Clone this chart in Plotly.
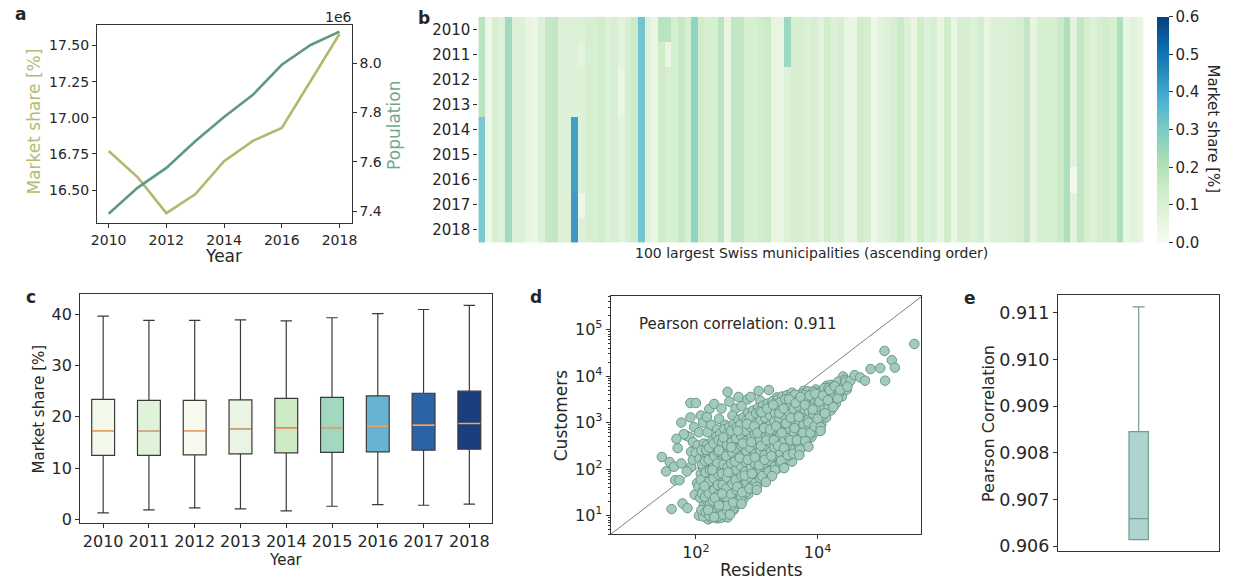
import plotly.graph_objects as go

W, H = 1233, 587
FONT = "DejaVu Sans"
INK = "#262626"

# ---------------- data ----------------
years = [2010, 2011, 2012, 2013, 2014, 2015, 2016, 2017, 2018]

# panel a
market_share_mean = [16.77, 16.59, 16.34, 16.47, 16.70, 16.84, 16.93, 17.26, 17.58]
population = [7.389e6, 7.494e6, 7.575e6, 7.683e6, 7.781e6, 7.871e6, 7.993e6, 8.073e6, 8.127e6]

# panel b : market share per municipality (100 largest, ascending), base value per column
municipality_rank = list(range(1, 101))
share_base = [
    0.20, 0.04, 0.12, 0.10, 0.25, 0.10, 0.10, 0.06, 0.04, 0.10,
    0.17, 0.18, 0.10, 0.10, 0.10, 0.10, 0.12, 0.12, 0.14, 0.10,
    0.12, 0.08, 0.12, 0.16, 0.33, 0.10, 0.05, 0.15, 0.12, 0.12,
    0.17, 0.12, 0.28, 0.15, 0.12, 0.12, 0.20, 0.06, 0.18, 0.18,
    0.12, 0.12, 0.14, 0.16, 0.06, 0.06, 0.10, 0.12, 0.12, 0.10,
    0.12, 0.08, 0.14, 0.10, 0.12, 0.06, 0.05, 0.14, 0.12, 0.04,
    0.08, 0.10, 0.12, 0.16, 0.10, 0.06, 0.15, 0.10, 0.12, 0.06,
    0.15, 0.05, 0.12, 0.12, 0.10, 0.13, 0.06, 0.10, 0.10, 0.10,
    0.11, 0.13, 0.18, 0.06, 0.12, 0.12, 0.12, 0.16, 0.22, 0.08,
    0.18, 0.12, 0.10, 0.13, 0.14, 0.12, 0.22, 0.05, 0.08, 0.06,
]
# (year, column index, value) where a cell differs from its column's base value
share_changes = [
    (2014, 0, 0.32), (2015, 0, 0.32), (2016, 0, 0.32), (2017, 0, 0.32), (2018, 0, 0.32),
    (2014, 14, 0.43), (2015, 14, 0.43), (2016, 14, 0.43), (2017, 14, 0.44), (2018, 14, 0.44),
    (2017, 15, 0.04), (2011, 15, 0.07),
    (2012, 21, 0.05), (2013, 21, 0.05),
    (2010, 27, 0.20), (2010, 28, 0.20), (2011, 28, 0.05),
    (2010, 46, 0.26), (2011, 46, 0.26),
    (2016, 89, 0.02),
]
share_ticks = [0.0, 0.1, 0.2, 0.3, 0.4, 0.5, 0.6]

# panel c : box statistics per year
box_low = [1.3, 1.9, 2.3, 2.1, 1.7, 2.6, 2.9, 2.8, 3.0]
box_q1 = [12.5, 12.5, 12.6, 12.8, 13.0, 13.1, 13.2, 13.5, 13.7]
box_median = [17.3, 17.2, 17.3, 17.6, 17.8, 17.9, 18.1, 18.4, 18.7]
box_q3 = [23.4, 23.2, 23.2, 23.3, 23.6, 23.8, 24.1, 24.6, 25.0]
box_high = [39.6, 38.8, 38.8, 38.9, 38.7, 39.3, 40.1, 40.9, 41.7]
box_colors = ["#f2f9ea", "#e0f2d9", "#f6fbee", "#e9f5e2", "#cdeac5",
              "#a2d7c0", "#67b4d2", "#2a63a6", "#1b3f7e"]

# panel d : (log10 residents, log10 customers) per municipality
resident_customer_log10 = [
    # above the diagonal (small municipalities)
    (1.44, 2.26), (1.51, 1.95), (1.57, 2.15), (1.60, 1.14), (1.64, 2.05), (1.66, 1.76),
    (1.73, 1.76), (1.76, 2.12), (1.78, 1.26), (1.86, 1.16), (1.84, 2.72), (1.89, 2.69),
    (1.92, 2.37), (1.92, 2.05), (1.91, 3.42), (2.00, 3.42), (1.76, 3.00), (1.91, 3.11),
    (1.95, 2.58), (1.97, 2.90), (2.05, 2.79), (2.03, 2.51), (2.08, 3.15), (2.22, 3.29),
    (2.30, 3.40), (2.52, 3.66), (2.38, 3.08), (2.19, 2.79), (1.80, 2.75), (1.95, 2.20),
    (1.85, 1.95), (2.00, 2.35), (2.12, 3.00), (2.25, 2.95), (2.18, 3.12), (2.42, 3.30),
    (2.55, 3.45), (2.65, 3.30), (2.70, 3.55), (2.75, 3.35), (2.85, 3.50), (2.60, 3.15),
    (2.48, 2.95), (2.35, 2.85), (1.70, 2.45), (1.68, 2.65), (2.02, 1.70), (1.98, 1.45),
    (3.03, 3.68), (3.06, 3.47), (3.33, 3.54), (3.44, 3.54), (3.58, 3.51), (3.77, 3.68),
    (3.93, 3.61), (4.12, 3.75), (3.20, 3.70), (2.90, 3.55),
    # lower outliers
    (2.62, 1.12), (2.90, 1.58), (2.35, 0.94), (2.45, 0.97), (2.20, 0.92), (2.52, 0.96),
    # main body
    (2.05, 1.00), (2.07, 1.38), (2.04, 1.62), (2.08, 1.90), (2.06, 2.22),
    (2.12, 0.98), (2.13, 1.22), (2.11, 1.52), (2.14, 1.76), (2.12, 2.02), (2.15, 2.30), (2.13, 2.55),
    (2.19, 1.05), (2.18, 1.32), (2.20, 1.57), (2.17, 1.82), (2.21, 2.06), (2.19, 2.27), (2.18, 2.52),
    (2.25, 0.95), (2.26, 1.16), (2.24, 1.42), (2.27, 1.63), (2.25, 1.87), (2.26, 2.11), (2.24, 2.36), (2.27, 2.61),
    (2.32, 1.02), (2.33, 1.26), (2.31, 1.50), (2.34, 1.73), (2.32, 1.96), (2.33, 2.21), (2.31, 2.46), (2.34, 2.70),
    (2.40, 0.95), (2.41, 1.12), (2.39, 1.36), (2.42, 1.58), (2.40, 1.81), (2.41, 2.02), (2.39, 2.26), (2.42, 2.51), (2.40, 2.76),
    (2.47, 1.05), (2.48, 1.26), (2.46, 1.46), (2.49, 1.69), (2.47, 1.91), (2.48, 2.13), (2.46, 2.36), (2.49, 2.61), (2.47, 2.86),
    (2.55, 1.12), (2.56, 1.31), (2.54, 1.56), (2.57, 1.76), (2.55, 2.01), (2.56, 2.21), (2.54, 2.43), (2.57, 2.66), (2.55, 2.91),
    (2.62, 1.16), (2.63, 1.41), (2.61, 1.63), (2.64, 1.86), (2.62, 2.06), (2.63, 2.29), (2.61, 2.51), (2.64, 2.73), (2.62, 2.96),
    (2.70, 1.26), (2.71, 1.49), (2.69, 1.71), (2.72, 1.93), (2.70, 2.13), (2.71, 2.36), (2.69, 2.59), (2.72, 2.81), (2.70, 3.06),
    (2.78, 1.36), (2.79, 1.56), (2.77, 1.79), (2.80, 2.01), (2.78, 2.21), (2.79, 2.43), (2.77, 2.66), (2.80, 2.89), (2.78, 3.11),
    (2.86, 1.46), (2.87, 1.66), (2.85, 1.89), (2.88, 2.09), (2.86, 2.31), (2.87, 2.51), (2.85, 2.73), (2.88, 2.96), (2.86, 3.21),
    (2.94, 1.58), (2.95, 1.76), (2.93, 1.96), (2.96, 2.16), (2.94, 2.39), (2.95, 2.61), (2.93, 2.81), (2.96, 3.03), (2.94, 3.26),
    (3.02, 1.68), (3.03, 1.86), (3.01, 2.06), (3.04, 2.26), (3.02, 2.46), (3.03, 2.69), (3.01, 2.91), (3.04, 3.11), (3.02, 3.31),
    (3.10, 1.76), (3.11, 1.96), (3.09, 2.16), (3.12, 2.36), (3.10, 2.56), (3.11, 2.76), (3.09, 2.96), (3.12, 3.16), (3.10, 3.36),
    (3.18, 1.86), (3.19, 2.06), (3.17, 2.26), (3.20, 2.43), (3.18, 2.63), (3.19, 2.83), (3.17, 3.01), (3.20, 3.21), (3.18, 3.41),
    (3.26, 1.96), (3.27, 2.13), (3.25, 2.33), (3.28, 2.51), (3.26, 2.71), (3.27, 2.91), (3.25, 3.09), (3.28, 3.26), (3.26, 3.46),
    (3.34, 2.01), (3.35, 2.21), (3.33, 2.41), (3.36, 2.59), (3.34, 2.79), (3.35, 2.96), (3.33, 3.13), (3.36, 3.31), (3.34, 3.49),
    (3.42, 2.11), (3.43, 2.29), (3.41, 2.49), (3.44, 2.66), (3.42, 2.86), (3.43, 3.03), (3.41, 3.21), (3.44, 3.39), (3.42, 3.56),
    (3.50, 2.19), (3.51, 2.39), (3.49, 2.56), (3.52, 2.73), (3.50, 2.91), (3.51, 3.09), (3.49, 3.26), (3.52, 3.43), (3.50, 3.59),
    (3.58, 2.16), (3.59, 2.46), (3.57, 2.63), (3.60, 2.81), (3.58, 2.99), (3.59, 3.16), (3.57, 3.33), (3.60, 3.49), (3.58, 3.64),
    (3.66, 2.36), (3.67, 2.56), (3.65, 2.71), (3.68, 2.89), (3.66, 3.06), (3.67, 3.23), (3.65, 3.39), (3.68, 3.56),
    (3.74, 2.46), (3.75, 2.63), (3.73, 2.81), (3.76, 2.96), (3.74, 3.13), (3.75, 3.29), (3.73, 3.46), (3.76, 3.62),
    (3.82, 2.56), (3.83, 2.73), (3.81, 2.89), (3.84, 3.06), (3.82, 3.21), (3.83, 3.36), (3.81, 3.51), (3.84, 3.67),
    (3.90, 2.69), (3.91, 2.86), (3.89, 3.01), (3.92, 3.16), (3.90, 3.31), (3.91, 3.46), (3.89, 3.61),
    (3.98, 2.81), (3.99, 2.96), (3.97, 3.11), (4.00, 3.26), (3.98, 3.41), (3.99, 3.56), (3.97, 3.71),
    (4.06, 2.96), (4.07, 3.11), (4.05, 3.26), (4.08, 3.41), (4.06, 3.56), (4.07, 3.69),
    (4.14, 3.11), (4.15, 3.26), (4.13, 3.41), (4.16, 3.56), (4.14, 3.69), (4.15, 3.79),
    (4.22, 3.26), (4.23, 3.41), (4.21, 3.56), (4.24, 3.68), (4.22, 3.81),
    (4.30, 3.41), (4.31, 3.56), (4.29, 3.69), (4.32, 3.83),
    (4.40, 3.56), (4.41, 3.71), (4.39, 3.86), (4.42, 3.99),
    (4.48, 3.71), (4.49, 3.82),
    # main body, points lying between the ones above
    (2.09, 1.12), (2.10, 1.48), (2.08, 1.77), (2.10, 2.10), (2.09, 2.40),
    (2.16, 1.08), (2.15, 1.40), (2.17, 1.66), (2.16, 1.93), (2.15, 2.17), (2.17, 2.41),
    (2.22, 1.00), (2.23, 1.24), (2.21, 1.48), (2.22, 1.73), (2.23, 1.98), (2.21, 2.20), (2.22, 2.46),
    (2.29, 1.08), (2.28, 1.32), (2.30, 1.55), (2.29, 1.80), (2.28, 2.03), (2.30, 2.28), (2.29, 2.55),
    (2.36, 0.98), (2.37, 1.18), (2.35, 1.43), (2.36, 1.66), (2.37, 1.88), (2.35, 2.12), (2.36, 2.37), (2.37, 2.62),
    (2.44, 1.02), (2.43, 1.20), (2.45, 1.42), (2.44, 1.66), (2.43, 1.90), (2.45, 2.10), (2.44, 2.33), (2.43, 2.58),
    (2.51, 1.12), (2.52, 1.36), (2.50, 1.58), (2.51, 1.82), (2.52, 2.04), (2.50, 2.28), (2.51, 2.52), (2.52, 2.76),
    (2.59, 1.22), (2.58, 1.46), (2.60, 1.68), (2.59, 1.92), (2.58, 2.12), (2.60, 2.35), (2.59, 2.58), (2.58, 2.82),
    (2.66, 1.30), (2.67, 1.55), (2.65, 1.76), (2.66, 1.99), (2.67, 2.20), (2.65, 2.44), (2.66, 2.66), (2.67, 2.90),
    (2.74, 1.40), (2.73, 1.62), (2.75, 1.85), (2.74, 2.06), (2.73, 2.28), (2.75, 2.50), (2.74, 2.73), (2.73, 2.96),
    (2.82, 1.50), (2.83, 1.72), (2.81, 1.95), (2.82, 2.15), (2.83, 2.38), (2.81, 2.60), (2.82, 2.82), (2.83, 3.04),
    (2.90, 1.62), (2.89, 1.82), (2.91, 2.03), (2.90, 2.24), (2.89, 2.46), (2.91, 2.68), (2.90, 2.90), (2.89, 3.12),
    (2.98, 1.70), (2.99, 1.92), (2.97, 2.12), (2.98, 2.33), (2.99, 2.55), (2.97, 2.76), (2.98, 2.98), (2.99, 3.20),
    (3.06, 1.80), (3.05, 2.00), (3.07, 2.20), (3.06, 2.40), (3.05, 2.62), (3.07, 2.83), (3.06, 3.04), (3.05, 3.24),
    (3.14, 1.90), (3.15, 2.10), (3.13, 2.30), (3.14, 2.50), (3.15, 2.70), (3.13, 2.90), (3.14, 3.10), (3.15, 3.28),
    (3.22, 1.98), (3.21, 2.18), (3.23, 2.38), (3.22, 2.58), (3.21, 2.77), (3.23, 2.96), (3.22, 3.15), (3.21, 3.34),
    (3.30, 2.06), (3.31, 2.26), (3.29, 2.46), (3.30, 2.65), (3.31, 2.84), (3.29, 3.03), (3.30, 3.21), (3.31, 3.40),
    (3.38, 2.15), (3.39, 2.35), (3.37, 2.54), (3.38, 2.73), (3.39, 2.91), (3.37, 3.08), (3.38, 3.26), (3.39, 3.44),
    (3.46, 2.22), (3.47, 2.42), (3.45, 2.61), (3.46, 2.79), (3.47, 2.97), (3.45, 3.15), (3.46, 3.32), (3.47, 3.50),
    (3.54, 2.30), (3.55, 2.50), (3.53, 2.68), (3.54, 2.86), (3.55, 3.04), (3.53, 3.21), (3.54, 3.38), (3.55, 3.55),
    (3.62, 2.42), (3.63, 2.61), (3.61, 2.78), (3.62, 2.95), (3.63, 3.12), (3.61, 3.29), (3.62, 3.46), (3.63, 3.60),
    (3.70, 2.50), (3.71, 2.68), (3.69, 2.85), (3.70, 3.02), (3.71, 3.19), (3.69, 3.35), (3.70, 3.52),
    (3.78, 2.62), (3.79, 2.80), (3.77, 2.96), (3.78, 3.12), (3.79, 3.28), (3.77, 3.43), (3.78, 3.59),
    (3.86, 2.72), (3.87, 2.92), (3.85, 3.08), (3.86, 3.24), (3.87, 3.39), (3.85, 3.55),
    (3.94, 2.86), (3.95, 3.04), (3.93, 3.19), (3.94, 3.35), (3.95, 3.50), (3.93, 3.66),
    (4.02, 3.00), (4.03, 3.18), (4.01, 3.34), (4.02, 3.49), (4.03, 3.63),
    (4.10, 3.16), (4.11, 3.33), (4.09, 3.48), (4.10, 3.62), (4.11, 3.74),
    (4.18, 3.32), (4.19, 3.48), (4.17, 3.62), (4.18, 3.74),
    (4.26, 3.48), (4.27, 3.62), (4.25, 3.76),
    (4.35, 3.62), (4.36, 3.76), (4.34, 3.88),
    (4.44, 3.80), (4.45, 3.92),
    # main body, scattered points
    (2.14, 1.63), (2.27, 1.98), (2.31, 1.38), (2.38, 2.40), (2.43, 1.47), (2.45, 2.68),
    (2.50, 1.21), (2.53, 1.93), (2.58, 2.47), (2.61, 1.28), (2.64, 2.16), (2.68, 1.62),
    (2.69, 2.82), (2.72, 2.24), (2.76, 1.50), (2.77, 2.55), (2.80, 1.86), (2.84, 2.97),
    (2.85, 2.20), (2.88, 1.58), (2.91, 2.58), (2.92, 1.90), (2.96, 2.92), (2.97, 2.25),
    (3.00, 1.62), (3.01, 2.78), (3.04, 2.08), (3.07, 2.50), (3.08, 3.22), (3.09, 1.85),
    (3.12, 2.88), (3.13, 2.20), (3.16, 2.62), (3.17, 3.30), (3.20, 1.95), (3.22, 2.85),
    (3.24, 2.28), (3.27, 3.38), (3.28, 2.62), (3.30, 1.98), (3.32, 2.92), (3.35, 2.50),
    (3.37, 3.20), (3.40, 2.18), (3.41, 2.78), (3.44, 3.30), (3.45, 2.45), (3.48, 2.98),
    (3.51, 2.30), (3.53, 3.50), (3.55, 2.62), (3.56, 3.10), (3.60, 2.33), (3.62, 2.88),
    (3.64, 3.42), (3.66, 2.62), (3.69, 3.12), (3.71, 2.42), (3.72, 3.55), (3.76, 2.78),
    (3.79, 3.38), (3.80, 2.60), (3.85, 3.00), (3.87, 3.58), (3.88, 2.78), (3.92, 3.28),
    (3.95, 2.92), (3.96, 3.62), (4.00, 3.08), (4.03, 3.45), (4.05, 2.90), (4.09, 3.58),
    (4.12, 3.20), (4.17, 3.48), (4.20, 3.70), (4.26, 3.33), (4.28, 3.78), (4.33, 3.52),
    (4.37, 3.70), (4.46, 3.88), (3.00, 1.55), (3.25, 1.85), (3.45, 2.02), (3.70, 2.30),
    (3.85, 2.48), (4.05, 2.82), (2.75, 1.25), (3.15, 1.72), (2.20, 1.12), (2.30, 0.97),
    (2.38, 1.22), (2.56, 1.02),
    # largest municipalities
    (4.54, 3.90), (4.49, 3.77), (4.61, 4.02), (4.70, 3.97), (4.78, 3.90), (4.87, 4.15),
    (5.03, 4.17), (5.11, 3.90), (5.10, 4.54), (5.22, 4.34), (5.27, 4.18), (5.59, 4.69),
]
residents = [10 ** p[0] for p in resident_customer_log10]
customers = [10 ** p[1] for p in resident_customer_log10]
identity_line = [4.0, 5.0e5]
pearson_r = 0.911

# panel e : distribution of Pearson correlations
pc_q1 = 0.906136
pc_median = 0.906590
pc_q3 = 0.908452
pc_low = 0.906136
pc_high = 0.911127

# ---------------- helpers ----------------
def px_x(v):
    return v / W


def px_y(v):
    return 1 - v / H


def dom_x(a, b):
    return [px_x(a), px_x(b)]


def dom_y(top, bottom):
    return [px_y(bottom), px_y(top)]


def axis_style(size=15, **kw):
    d = dict(showline=True, linecolor="#333333", linewidth=1.2, mirror=True,
             ticks="outside", ticklen=4, tickcolor="#333333", tickwidth=1,
             showgrid=False, zeroline=False,
             tickfont=dict(family=FONT, size=size, color=INK))
    d.update(kw)
    return d


fig = go.Figure()

# ---------------- panel a ----------------
fig.add_trace(go.Scatter(x=years, y=market_share_mean, mode="lines",
                         line=dict(color="#b3b86a", width=2.6), xaxis="x", yaxis="y",
                         showlegend=False))
fig.add_trace(go.Scatter(x=years, y=population, mode="lines",
                         line=dict(color="#5f9985", width=2.6), xaxis="x", yaxis="y2",
                         showlegend=False))

# ---------------- panel b ----------------
year_index = {y: i for i, y in enumerate(years)}
z = [list(share_base) for _ in years]
for yr, col, val in share_changes:
    z[year_index[yr]][col] = val

fig.add_trace(go.Heatmap(
    x=municipality_rank, y=years, z=z, colorscale="GnBu", zmin=0, zmax=0.6,
    xaxis="x3", yaxis="y3", opacity=0.92,
    colorbar=dict(x=px_x(1162), xanchor="left", xpad=0, ypad=0,
                  y=px_y(131), yanchor="middle",
                  len=228 / H, lenmode="fraction", thickness=12, outlinewidth=0,
                  tickvals=share_ticks, tickformat=".1f", ticks="outside", ticklen=4,
                  tickcolor="#333333",
                  tickfont=dict(family=FONT, size=15, color=INK)),
))

# ---------------- panel c ----------------
for i, yr in enumerate(years):
    fig.add_trace(go.Box(
        x=[yr], q1=[box_q1[i]], median=[box_median[i]], q3=[box_q3[i]],
        lowerfence=[box_low[i]], upperfence=[box_high[i]],
        width=0.5, whiskerwidth=0.5, fillcolor=box_colors[i],
        line=dict(color="#3a3a3a", width=1.2), boxpoints=False,
        xaxis="x4", yaxis="y4", showlegend=False, hoverinfo="skip"))
    fig.add_trace(go.Scatter(
        x=[yr - 0.24, yr + 0.24], y=[box_median[i], box_median[i]], mode="lines",
        line=dict(color="#eda36b", width=1.6), xaxis="x4", yaxis="y4",
        showlegend=False, hoverinfo="skip"))

# ---------------- panel d ----------------
fig.add_trace(go.Scatter(x=identity_line, y=identity_line, mode="lines",
                         line=dict(color="#7f7f7f", width=1), xaxis="x5", yaxis="y5",
                         showlegend=False, hoverinfo="skip"))
fig.add_trace(go.Scatter(x=residents, y=customers, mode="markers",
                         marker=dict(size=9.5, color="#a2cbbd",
                                     line=dict(color="#6b9985", width=1)),
                         xaxis="x5", yaxis="y5", showlegend=False))

# ---------------- panel e ----------------
fig.add_trace(go.Box(
    x=[0], q1=[pc_q1], median=[pc_median], q3=[pc_q3],
    lowerfence=[pc_low], upperfence=[pc_high],
    width=0.24, whiskerwidth=0.62, fillcolor="#afd3cf",
    line=dict(color="#6f9e8a", width=1.2), boxpoints=False,
    xaxis="x6", yaxis="y6", showlegend=False, hoverinfo="skip"))

# ---------------- layout ----------------
log_minor = [m * 10 ** k for k in range(0, 6) for m in range(2, 10)]

layout = dict(
    width=W, height=H, margin=dict(l=0, r=0, t=0, b=0),
    paper_bgcolor="white", plot_bgcolor="white",
    font=dict(family=FONT, color=INK),
    # a
    xaxis=axis_style(14, domain=dom_x(92, 349), anchor="y", range=[2009.6, 2018.42],
                     tickvals=[2010, 2012, 2014, 2016, 2018]),
    yaxis=axis_style(14, domain=dom_y(25, 225), anchor="x", range=[16.274, 17.644],
                     tickvals=[16.5, 16.75, 17.0, 17.25, 17.5], tickformat=".2f",
                     mirror=False),
    yaxis2=axis_style(14, overlaying="y", side="right", anchor="x",
                      range=[7.353e6, 8.155e6],
                      tickvals=[7.4e6, 7.6e6, 7.8e6, 8.0e6],
                      ticktext=["7.4", "7.6", "7.8", "8.0"], mirror=False),
    # b
    xaxis3=dict(domain=dom_x(477, 1149), anchor="y3", range=[0.5, 100.5],
                showticklabels=False, ticks="", showline=False, showgrid=False,
                zeroline=False),
    yaxis3=dict(domain=dom_y(17, 245), anchor="x3", range=[2018.5, 2009.5],
                tickvals=years, ticks="outside", ticklen=4, tickcolor="#333333",
                showline=False, showgrid=False, zeroline=False,
                tickfont=dict(family=FONT, size=15, color=INK)),
    # c
    xaxis4=axis_style(16, domain=dom_x(75, 491), anchor="y4", range=[2009.5, 2018.5],
                      tickvals=years),
    yaxis4=axis_style(16, domain=dom_y(297.3, 528.3), anchor="x4", range=[-0.64, 43.87],
                      tickvals=[0, 10, 20, 30, 40]),
    # d
    xaxis5=axis_style(16, domain=dom_x(610.7, 924), anchor="y5", type="log",
                      range=[0.6, 5.7], tickvals=[1e2, 1e4],
                      ticktext=["10<sup>2</sup>", "10<sup>4</sup>"]),
    yaxis5=axis_style(16, domain=dom_y(298.6, 539.7), anchor="x5", type="log",
                      range=[0.6, 5.73], tickvals=[1e1, 1e2, 1e3, 1e4, 1e5],
                      ticktext=["10<sup>1</sup>", "10<sup>2</sup>", "10<sup>3</sup>",
                                "10<sup>4</sup>", "10<sup>5</sup>"],
                      minor=dict(tickvals=log_minor, ticks="outside", ticklen=2,
                                 tickcolor="#333333", showgrid=False)),
    # e
    xaxis6=axis_style(16, domain=dom_x(1062.3, 1225.3), anchor="y6", range=[-1, 1],
                      showticklabels=False, ticks=""),
    yaxis6=axis_style(17.5, domain=dom_y(298.3, 556.7), anchor="x6",
                      range=[0.905894, 0.911376],
                      tickvals=[0.906, 0.907, 0.908, 0.909, 0.910, 0.911],
                      tickformat=".3f"),
)
fig.update_layout(**layout)


def note(text, x, y, size=15, color=INK, angle=0, bold=False, xanchor="center"):
    if bold:
        text = "<b>" + text + "</b>"
    fig.add_annotation(text=text, x=px_x(x), y=px_y(y), xref="paper", yref="paper",
                       xanchor=xanchor, yanchor="middle", showarrow=False,
                       textangle=angle, font=dict(family=FONT, size=size, color=color))


# panel letters
note("a", 15, 14, 17, bold=True)
note("b", 422, 18, 17, bold=True)
note("c", 25, 300, 17, bold=True)
note("d", 535, 300, 17, bold=True)
note("e", 973, 301, 17, bold=True)

# panel a titles
note("Market share [%]", 28, 123, 17, color="#b5ba74", angle=-90)
note("Population", 392, 127, 17, color="#72a690", angle=-90)
note("Year", 220, 259, 17)
note("1e6", 336, 17, 14)

# panel b titles
note("100 largest Swiss municipalities (ascending order)", 813, 256, 14)
note("Market share [%]", 1219, 130, 15, angle=90)

# panel c titles
note("Market share [%]", 33, 413, 15, angle=-90)
note("Year", 283, 566, 15)

# panel d titles
note("Customers", 560, 420, 17, angle=-90)
note("Residents", 763, 576, 17)
note("Pearson correlation: %.3f" % pearson_r, 637, 327, 15, xanchor="left")

# panel e title
note("Pearson Correlation", 992, 428, 16, angle=-90)

fig.write_html("out.html")
